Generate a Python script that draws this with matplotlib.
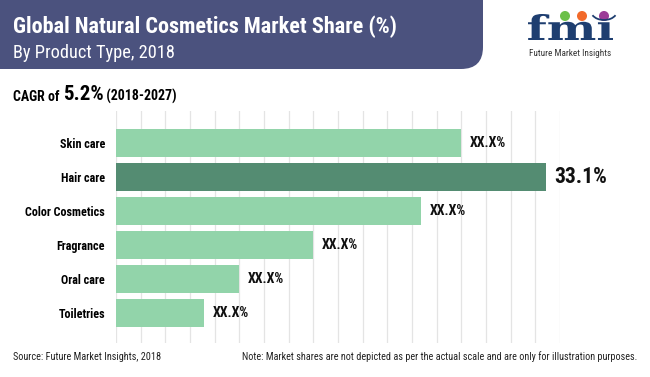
import numpy as np
import matplotlib
matplotlib.use('Agg')
import matplotlib.pyplot as plt
from matplotlib.patches import FancyBboxPatch, Circle, PathPatch, Arc
from matplotlib.textpath import TextPath
from matplotlib.font_manager import FontProperties
from matplotlib.transforms import Affine2D
from matplotlib.ticker import MultipleLocator

# data
categories = ['Skin care', 'Hair care', 'Color Cosmetics', 'Fragrance', 'Oral care', 'Toiletries']
shares = [26.6, 33.1, 23.5, 15.2, 9.5, 6.8]
value_labels = ['XX.X%', '33.1%', 'XX.X%', 'XX.X%', 'XX.X%', 'XX.X%']
highlight = 'Hair care'

plt.rcParams['font.family'] = ['Roboto Condensed', 'DejaVu Sans']
plt.rcParams['font.stretch'] = 'condensed'

light_green = '#92d4aa'
dark_green = '#548c72'
header_blue = '#4b527e'

fig = plt.figure(figsize=(6.5, 3.77), dpi=100)
fig.patch.set_facecolor('white')

# background layer in pixel coords
bg = fig.add_axes([0, 0, 1, 1], zorder=0)
bg.set_xlim(0, 650)
bg.set_ylim(377, 0)
bg.axis('off')

# header band with rounded bottom-right corner
bg.add_patch(FancyBboxPatch((-40, -40), 523, 109, boxstyle='round,pad=0,rounding_size=22',
                            facecolor=header_blue, edgecolor='none'))
bg.text(13, 33, 'Global Natural Cosmetics Market Share (%)', color='white',
        fontsize=16, fontweight='bold', va='baseline', ha='left')
bg.text(13, 58, 'By Product Type, 2018', color='white', fontsize=13.2, va='baseline', ha='left')

# CAGR line
t1 = bg.text(13, 101, 'CAGR of ', fontsize=10, fontweight='bold', va='baseline', ha='left')
fig.canvas.draw()
t2 = bg.annotate('5.2%', xycoords=t1, xy=(1, 0), va='bottom', ha='left',
                 fontsize=15, fontweight='bold')
fig.canvas.draw()
bg.annotate(' (2018-2027)', xycoords=t2, xy=(1, 0), va='bottom', ha='left',
            fontsize=10, fontweight='bold')

# fmi logo, drawn as a stretched text path
tp = TextPath((0, 0), 'fm\u0131', size=10, prop=FontProperties(family='DejaVu Serif', weight='bold'))
ext = tp.get_extents()
sx = 85 / ext.width
sy = 26 / ext.height
logo_tr = Affine2D().translate(-ext.x0, 0).scale(sx, -sy).translate(528, 40)
bg.add_patch(PathPatch(logo_tr.transform_path(tp), facecolor='#1e3e70', edgecolor='none'))
for cx, col in [(565, '#6cc04a'), (582, '#f26a2a'), (604, '#9b3d97')]:
    bg.add_patch(Circle((cx, 16), 4.3, color=col))
bg.add_patch(Arc((604, 11), 26, 18, theta1=20, theta2=160, color='#1e3e70', linewidth=1.3))
bg.text(570, 54, 'Future Market Insights', fontsize=6.6, color='#333333',
        ha='center', va='center')

# footer
bg.text(13, 357, 'Source: Future Market Insights, 2018', fontsize=7.4,
        color='#222222', ha='left', va='center')
bg.text(637, 357, 'Note: Market shares are not depicted as per the actual scale and are only for illustration purposes.',
        fontsize=7.3, color='#222222', ha='right', va='center')

# bar chart
ax = fig.add_axes([116 / 650, 34 / 377, 444 / 650, 232 / 377], zorder=1)
ax.patch.set_alpha(0)
ypos = np.arange(len(categories))
colors = [dark_green if c == highlight else light_green for c in categories]
ax.barh(ypos, shares, height=0.82, color=colors, zorder=2)
ax.set_xlim(0, 34.2)
ax.set_ylim(5.88, -0.94)
ax.xaxis.set_major_locator(MultipleLocator(1.9))
ax.grid(axis='x', color='#e4e4e4', linewidth=0.9, zorder=0)
ax.set_axisbelow(True)
ax.tick_params(axis='x', length=0, labelbottom=False)
ax.tick_params(axis='y', length=0, pad=8)
ax.set_yticks(ypos)
ax.set_yticklabels(categories, fontsize=8.7, fontweight='bold')
for s in ax.spines.values():
    s.set_visible(False)

for y, v, lab, c in zip(ypos, shares, value_labels, categories):
    big = c == highlight
    ax.annotate(lab, xy=(v, y), xytext=(6, 0), textcoords='offset points',
                va='center', ha='left', fontsize=15.5 if big else 10, fontweight='bold',
                color='#111111', annotation_clip=False)

fig.savefig('out.png', dpi=100)
